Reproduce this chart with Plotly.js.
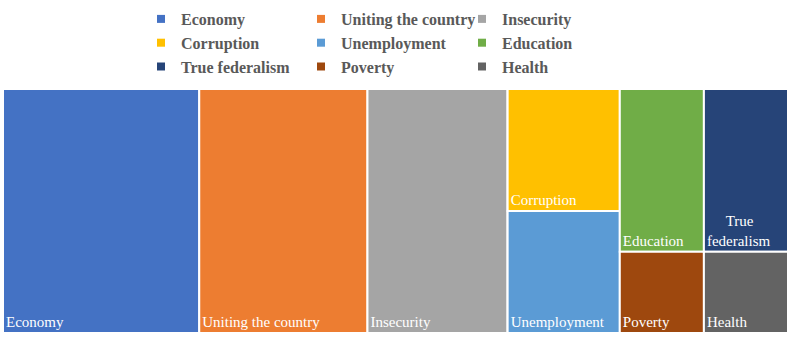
<!DOCTYPE html>
<html>
<head>
<meta charset="utf-8">
<script src="https://cdn.plot.ly/plotly-3.0.1.min.js"></script>
<style>html,body{margin:0;padding:0;background:#fff;}#chart{width:794px;height:340px;}</style>
</head>
<body>
<div id="chart"></div>
<script>
// ---- data ----
var categories = ['Economy', 'Uniting the country', 'Insecurity', 'Corruption', 'Unemployment', 'Education', 'Poverty', 'True federalism', 'Health'];
var values = [7, 6, 5, 2, 2, 2, 1, 2, 1];
var columnGroup = ['', '', '', 'g4', 'g4', 'g5', 'g5', 'g6', 'g6'];
var tileLabels = ['Economy', 'Uniting the country', 'Insecurity', 'Corruption', 'Unemployment', 'Education', 'Poverty', '\u00a0\u00a0\u00a0\u00a0\u00a0True<br>federalism', 'Health'];
var colors = ['#4472C4', '#ED7D31', '#A5A5A5', '#FFC000', '#5B9BD5', '#70AD47', '#9E480E', '#264478', '#636363'];
var legendOrder = ['Economy', 'Uniting the country', 'Insecurity', 'Corruption', 'Unemployment', 'Education', 'True federalism', 'Poverty', 'Health'];
var groups = ['g4', 'g5', 'g6'];

// ---- build treemap ----
var ids = categories.slice().concat(groups);
var labels = categories.slice().concat(groups.map(function(){return '';}));
var parents = columnGroup.slice().concat(groups.map(function(){return '';}));
var vals = values.slice().concat(groups.map(function(){return 0;}));
var txt = tileLabels.slice().concat(groups.map(function(){return '';}));
var cols = colors.slice().concat(groups.map(function(){return 'rgba(0,0,0,0)';}));

var orderIds = ['Economy', 'Uniting the country', 'Insecurity', 'g4', 'Corruption', 'Unemployment', 'g5', 'Education', 'Poverty', 'g6', 'True federalism', 'Health'];
function pick(arr){ return orderIds.map(function(id){ return arr[ids.indexOf(id)]; }); }

var serif = 'Liberation Serif, DejaVu Serif, serif';
var traces = [{
  type: 'treemap',
  ids: pick(ids),
  labels: pick(labels),
  parents: pick(parents),
  values: pick(vals),
  text: pick(txt),
  branchvalues: 'remainder',
  sort: false,
  tiling: {packing: 'slice-dice', pad: 0},
  marker: {colors: pick(cols), line: {color: '#ffffff', width: 2}, pad: {t: 0, l: 0, r: 0, b: 0}},
  texttemplate: '%{text}',
  textposition: 'bottom left',
  textfont: {family: serif, size: 15, color: '#ffffff'},
  hoverinfo: 'label+value',
  pathbar: {visible: false},
  showlegend: false,
  domain: {x: [0, 1], y: [0, 1]}
}];

legendOrder.forEach(function(name, i){
  var col = i % 3;
  traces.push({
    type: 'scatter', mode: 'markers', x: [-10], y: [-10],
    name: name,
    marker: {symbol: 'square', size: 8, color: colors[categories.indexOf(name)]},
    legend: col === 0 ? 'legend' : (col === 1 ? 'legend2' : 'legend3'),
    legendgroup: name,
    hoverinfo: 'skip'
  });
});

// plot area: x 3..788, y 89..333 (px)
function leg(xpx){
  return {
    xref: 'paper', yref: 'paper',
    x: (xpx - 3) / 785, y: (333 - 2) / 244, xanchor: 'left', yanchor: 'top',
    orientation: 'v', traceorder: 'grouped', tracegroupgap: 0,
    font: {family: serif, size: 16, color: '#595959', weight: 'bold'},
    bgcolor: 'rgba(0,0,0,0)', borderwidth: 0
  };
}

var layout = {
  width: 794, height: 340,
  margin: {l: 3, r: 6, t: 89, b: 7, autoexpand: false},
  paper_bgcolor: '#ffffff', plot_bgcolor: 'rgba(0,0,0,0)',
  xaxis: {visible: false, range: [0, 1], autorange: false, fixedrange: true},
  yaxis: {visible: false, range: [0, 1], autorange: false, fixedrange: true},
  showlegend: true,
  legend: leg(141), legend2: leg(301), legend3: leg(462)
};

Plotly.newPlot('chart', traces, layout, {displayModeBar: false, staticPlot: true});
</script>
</body>
</html>
